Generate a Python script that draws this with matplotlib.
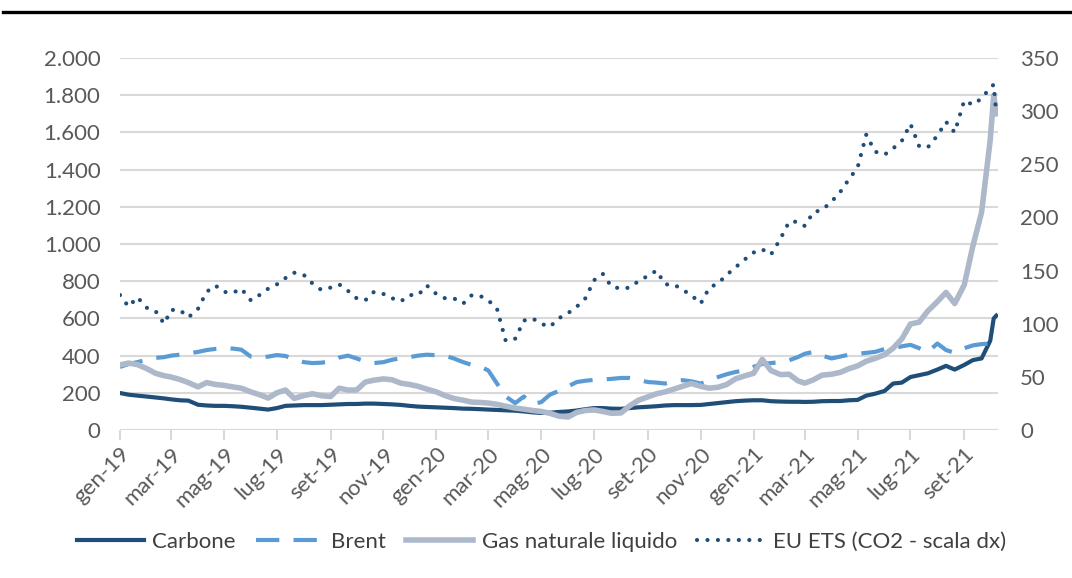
import datetime as dt
import matplotlib
matplotlib.use("Agg")
import matplotlib.pyplot as plt
from matplotlib.lines import Line2D

# ---------------- data ----------------
# sampling grid: 1st, 11th, 21st of each month (Jan 2019 - Sep 2021) + early Oct 2021
grid_days = [1, 11, 21]
dates = [dt.date(2019 + (m // 12), m % 12 + 1, d) for m in range(33) for d in grid_days]
dates += [dt.date(2021, 10, 1), dt.date(2021, 10, 5), dt.date(2021, 10, 8)]

carbone = [199, 190, 185, 180, 175, 170, 165, 160, 158, 136, 132, 130, 130, 128, 125, 120, 115, 110,
           118, 130, 132, 134, 134, 134, 136, 138, 140, 140, 142, 142, 140, 138, 135, 130, 126, 124,
           122, 120, 118, 115, 114, 112, 110, 108, 106, 104, 100, 95, 92, 93, 97, 100, 105, 112,
           118, 118, 115, 114, 118, 122, 125, 128, 132, 134, 134, 134, 135, 140, 145, 150, 155, 158,
           160, 160, 155, 153, 152, 152, 151, 152, 155, 156, 156, 160, 162, 185, 195, 210, 250, 255,
           285, 295, 305, 325, 345, 325, 350, 376, 385, 480, 600, 615]

brent = [339, 355, 365, 378, 388, 392, 400, 405, 412, 420, 430, 436, 440, 438, 432, 395, 388, 395,
         403, 398, 380, 365, 360, 362, 368, 390, 400, 385, 368, 360, 365, 378, 385, 392, 400, 405,
         402, 400, 385, 365, 350, 340, 320, 250, 180, 145, 180, 140, 150, 190, 210, 235, 258, 265,
         270, 272, 275, 280, 280, 270, 258, 255, 250, 262, 268, 262, 250, 265, 285, 300, 312, 320,
         340, 355, 360, 365, 375, 392, 410, 420, 400, 385, 395, 405, 410, 415, 420, 435, 440, 450,
         458, 440, 420, 465, 430, 415, 440, 455, 462, 465, 470, 472]

gas = [350, 360, 352, 330, 305, 292, 285, 272, 255, 232, 255, 245, 240, 232, 225, 205, 190, 172,
       200, 215, 170, 185, 195, 185, 180, 225, 215, 215, 258, 268, 275, 270, 252, 245, 235, 220,
       205, 185, 170, 160, 150, 148, 145, 138, 128, 118, 112, 105, 100, 90, 75, 70, 95, 105,
       108, 100, 90, 92, 130, 160, 178, 195, 205, 220, 235, 250, 235, 225, 230, 245, 275, 290,
       305, 380, 320, 298, 300, 265, 252, 270, 295, 300, 310, 330, 345, 370, 385, 405, 440, 490,
       570, 580, 640, 690, 740, 680, 780, 990, 1170, 1560, 1800, 1700]

eu_ets = [127, 116, 125, 115, 112, 100, 113, 113, 106, 114, 130, 136, 130, 129, 133, 122, 127, 133,
          137, 143, 148, 146, 138, 132, 134, 137, 131, 124, 122, 130, 128, 124, 121, 127, 127, 136,
          128, 124, 124, 119, 127, 126, 122, 114, 84, 86, 103, 105, 100, 97, 105, 110, 116, 124,
          141, 147, 135, 133, 134, 140, 145, 150, 137, 137, 132, 127, 119, 134, 138, 146, 153, 160,
          167, 170, 165, 180, 196, 196, 192, 205, 207, 215, 224, 236, 247, 278, 262, 259, 265, 272,
          288, 267, 266, 277, 290, 280, 310, 306, 312, 322, 325, 298]

series_labels = ["Carbone", "Brent", "Gas naturale liquido", "EU ETS (CO2 - scala dx)"]
left_ticks = [0, 200, 400, 600, 800, 1000, 1200, 1400, 1600, 1800, 2000]
right_ticks = [0, 50, 100, 150, 200, 250, 300, 350]
mesi = ["gen", "feb", "mar", "apr", "mag", "giu", "lug", "ago", "set", "ott", "nov", "dic"]

# ---------------- style ----------------
plt.rcParams['font.family'] = ['Lato', 'DejaVu Sans']
TXT = '#595959'
GRID = '#D9D9D9'
C_CARB = '#1F4E79'
C_BRENT = '#5B9BD5'
C_GAS = '#ADB9CA'
C_ETS = '#1F4E79'
FS = 16

fig = plt.figure(figsize=(10.72, 5.78), dpi=100)
ax = fig.add_axes([0.1119, 0.256, 0.8191, 0.6436])
ax2 = ax.twinx()

BR_DASH = [5.6, 3.4]
ETS_DASH = [0.01, 2.5]
ax.plot(dates, carbone, color=C_CARB, lw=3.0, solid_joinstyle='round', label=series_labels[0], zorder=3)
ax.plot(dates, brent, color=C_BRENT, lw=3.0, dashes=BR_DASH, dash_capstyle='butt',
        label=series_labels[1], zorder=3)
ax.plot(dates, gas, color=C_GAS, lw=4.0, solid_joinstyle='round', label=series_labels[2], zorder=4)
ax2.plot(dates, eu_ets, color=C_ETS, lw=3.0, dashes=ETS_DASH, dash_capstyle='round',
         label=series_labels[3])

ax.set_ylim(0, 2000)
ax2.set_ylim(0, 350)
ax.set_yticks(left_ticks)
ax2.set_yticks(right_ticks)
ax.set_yticklabels([f"{v:,}".replace(",", ".") for v in left_ticks])
ax2.set_yticklabels([str(v) for v in right_ticks])

ax.set_xlim(dt.date(2019, 1, 1), dt.date(2021, 10, 10))
xt = [dt.date(2019 + (m // 12), m % 12 + 1, 1) for m in range(0, 33, 2)]
ax.set_xticks(xt)
ax.set_xticklabels([f"{mesi[d.month - 1]}-{d.year % 100:02d}" for d in xt],
                   rotation=45, ha='right', va='top', rotation_mode='anchor')

ax.grid(axis='y', color=GRID, lw=1.5)
ax.set_axisbelow(True)
for a in (ax, ax2):
    for s in ('top', 'left', 'right', 'bottom'):
        a.spines[s].set_visible(False)
ax.axhline(0, color=GRID, lw=1.5, zorder=1)
ax.tick_params(axis='x', colors=GRID, length=7, width=1.5, labelcolor=TXT, labelsize=FS, pad=3)
ax.tick_params(axis='y', length=0, labelcolor=TXT, labelsize=FS, pad=14)
ax2.tick_params(axis='y', length=0, labelcolor=TXT, labelsize=FS, pad=16)

handles = [Line2D([], [], color=C_CARB, lw=3.0),
           Line2D([], [], color=C_BRENT, lw=3.0, dashes=BR_DASH),
           Line2D([], [], color=C_GAS, lw=4.0),
           Line2D([], [], color=C_ETS, lw=3.0, dashes=ETS_DASH, dash_capstyle='round')]
fig.legend(handles, series_labels, loc='center', bbox_to_anchor=(0.505, 0.062), ncol=4,
           frameon=False, handlelength=3.0, handletextpad=0.4, columnspacing=0.9,
           fontsize=FS, labelcolor='#404040')

fig.add_artist(Line2D([0.003, 1.0], [1 - 12 / 578, 1 - 12 / 578], color='black', lw=2.4,
                      transform=fig.transFigure))

fig.savefig("out.png", dpi=100)
